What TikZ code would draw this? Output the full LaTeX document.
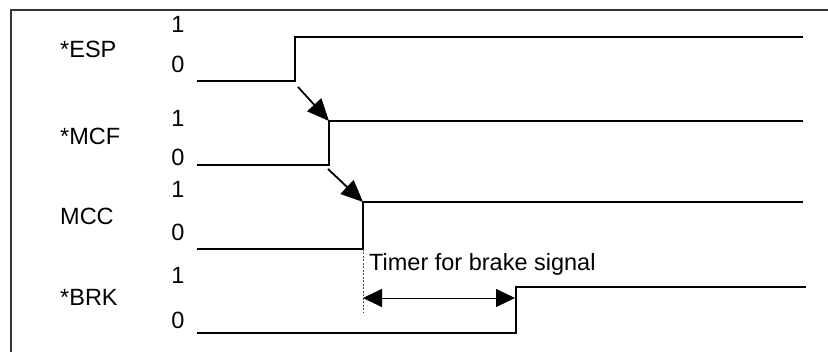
\documentclass[tikz,border=0pt]{standalone}
\usepackage{fontspec}
\setmainfont{Liberation Sans}
\usetikzlibrary{arrows.meta,positioning}

\begin{document}
\begin{tikzpicture}[x=1pt, y=-1pt,
    txt/.style={inner sep=0pt, font=\fontsize{23.5}{28}\selectfont},
    sig/.style={txt, anchor=west},
    wave/.style={line width=2.4pt, line join=miter},
    cause/.style={line width=1.8pt, -{Triangle[length=22pt,width=19pt]}},
    span/.style={line width=0.9pt, {Triangle[length=19pt,width=18pt]}-{Triangle[length=19pt,width=18pt]}}
]
\useasboundingbox (0,0) rectangle (828,352);
% frame
\draw[line width=1.2pt, black!80] (11,352) -- (11,10) -- (828,10);

% signal names and levels
\node[sig] (esp) at (60,49) {*ESP};
\node[txt] (esp1) at (178,24) {1};
\node[txt] (esp0) at (178,64) {0};
\node[sig] (mcf) at (60,136) {*MCF};
\node[txt] (mcf1) at (178,118) {1};
\node[txt] (mcf0) at (178,157) {0};
\node[sig] (mcc) at (60,216) {MCC};
\node[txt] (mcc1) at (178,189) {1};
\node[txt] (mcc0) at (178,232) {0};
\node[sig] (brk) at (60,297) {*BRK};
\node[txt] (brk1) at (178,275) {1};
\node[txt] (brk0) at (178,320) {0};

% edges of the waveforms
\coordinate (espLo) at (295,81);
\coordinate (espHi) at (295,37);
\coordinate (mcfLo) at (329,165);
\coordinate (mcfHi) at (329,121);
\coordinate (mccLo) at (363,249);
\coordinate (mccHi) at (363,202);
\coordinate (brkLo) at (516,333);
\coordinate (brkHi) at (516,287);

\draw[wave] (197,81) -- (espLo) -- (espHi) -- (803,37);
\draw[wave] (197,165) -- (mcfLo) -- (mcfHi) -- (803,121);
\draw[wave] (197,249) -- (mccLo) -- (mccHi) -- (803,202);
\draw[wave] (197,333) -- (brkLo) -- (brkHi) -- (806,287);

% sequence arrows
\draw[cause] ([shift={(3,6)}]espLo) -- (mcfHi);
\draw[cause] ([shift={(-1,4)}]mcfLo) -- (mccHi);

% brake timer
\coordinate (tmrEnd) at (363,313);
\draw[dashed, line width=0.5pt, black!70, dash pattern=on 2pt off 1.5pt] (mccLo) -- (tmrEnd);
\coordinate (tmrL) at (363,298);
\coordinate (tmrR) at (515,298);
\draw[span] (tmrL) -- (tmrR);
\node[txt, anchor=base west] (tmr) at (369,271) {Timer for brake signal};
\end{tikzpicture}
\end{document}
